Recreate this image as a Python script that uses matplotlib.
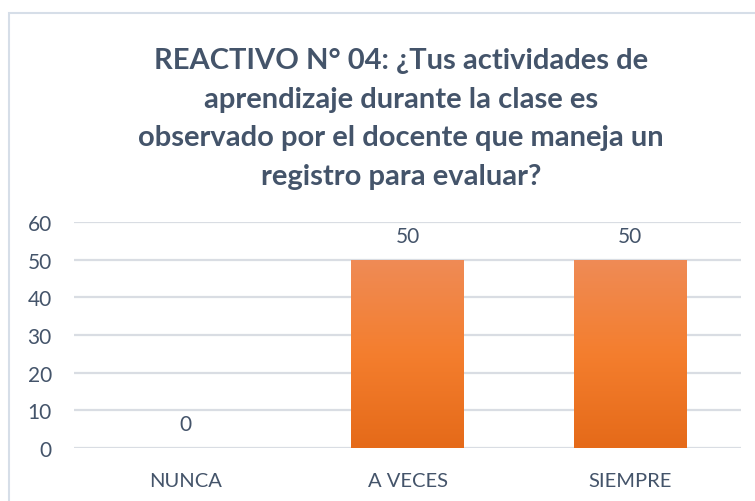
import matplotlib.pyplot as plt
import numpy as np
from matplotlib.colors import LinearSegmentedColormap
from matplotlib.patches import Rectangle

#%% Data
categories = ['NUNCA', 'A VECES', 'SIEMPRE']
values = [0, 50, 50]
y_ticks = [0, 10, 20, 30, 40, 50, 60]
title = ('REACTIVO N° 04: ¿Tus actividades de\naprendizaje durante la clase es\n'
         'observado por el docente que maneja un\nregistro para evaluar?')

#%% Style
text_col = '#44546A'
grid_col = '#D9DDE3'
plt.rcParams['font.family'] = ['Lato', 'DejaVu Sans']

fig = plt.figure(figsize=(7.55, 5.02), dpi=100)
fig.patch.set_facecolor('white')

# chart border (runs off the right / bottom edge like the source)
fig.patches.append(Rectangle((9/755, -0.1), 1.0, 1 - 14/502 + 0.1,
                             transform=fig.transFigure, fill=False,
                             edgecolor='#D6DEE8', linewidth=1.5))

ax = fig.add_axes([74/755, 1 - 449/502, 667/755, 226/502])
x = np.arange(len(categories))
bars = ax.bar(x, values, width=0.505, color='none', edgecolor='none', zorder=2)

# vertical gradient fill for each bar
grad = LinearSegmentedColormap.from_list('og', ['#E56A19', '#F47E2E', '#EF8B56'])
img = np.linspace(0, 1, 256).reshape(-1, 1)
for b in bars:
    if b.get_height() <= 0:
        continue
    x0, w, h = b.get_x(), b.get_width(), b.get_height()
    im = ax.imshow(img, cmap=grad, origin='lower', aspect='auto',
                   extent=[x0, x0 + w, 0, h], zorder=2)
    im.set_clip_path(b)

for xi, v in zip(x, values):
    ax.text(xi, v + 6.4, str(v), ha='center', va='center',
            fontsize=15, color=text_col)

ax.set_xlim(-0.5, len(categories) - 0.5)
ax.set_ylim(0, 60)
ax.set_yticks(y_ticks)
ax.set_xticks(x)
ax.set_xticklabels(categories)
ax.tick_params(axis='both', length=0, labelsize=15, labelcolor=text_col)
ax.tick_params(axis='x', labelsize=14.5, pad=17)
ax.tick_params(axis='y', pad=16)
ax.grid(axis='y', color=grid_col, linewidth=1.6, zorder=0)
ax.set_axisbelow(True)
for s in ax.spines.values():
    s.set_visible(False)

fig.text(401/755, 1 - 119/502, title, ha='center', va='center',
         fontsize=21, fontweight='bold', color=text_col, linespacing=1.6)

fig.savefig('out.png', dpi=100)
